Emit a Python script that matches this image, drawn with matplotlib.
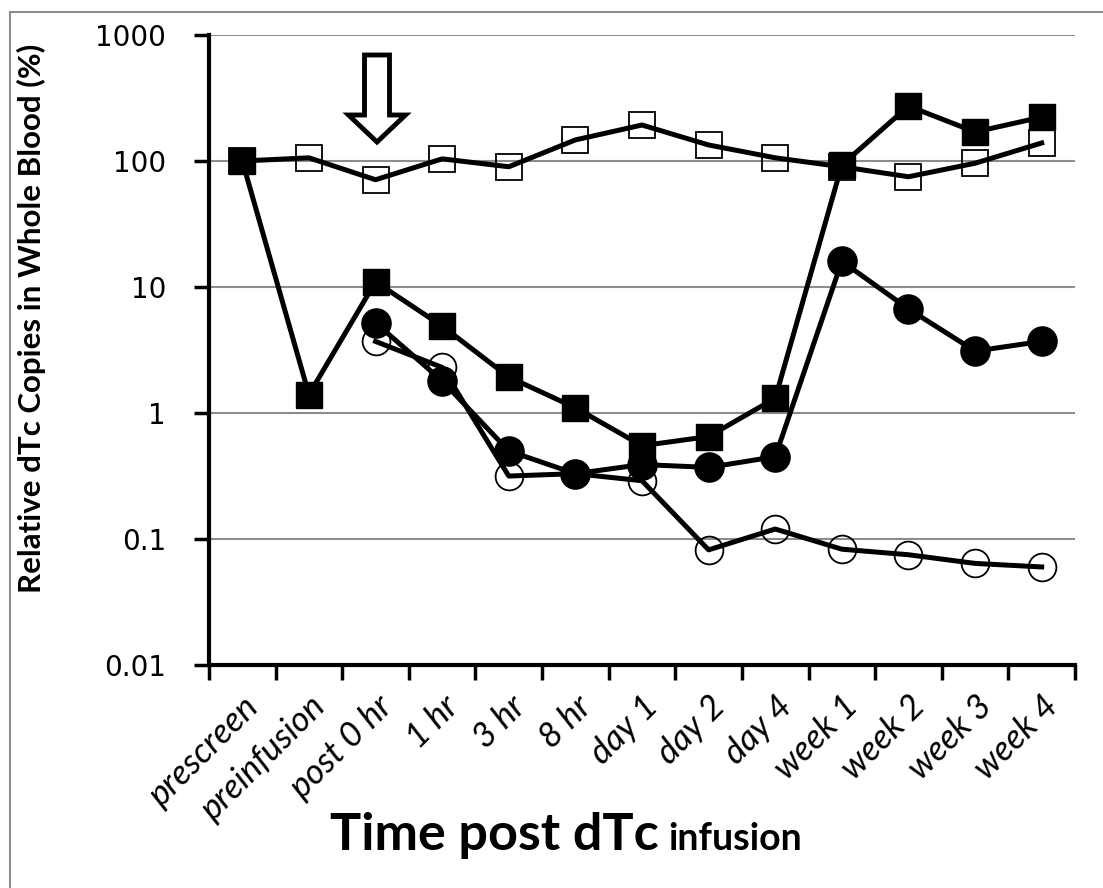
import matplotlib
matplotlib.use("Agg")
import matplotlib.pyplot as plt
from matplotlib.patches import Rectangle, FancyArrow
import numpy as np

# time points
labels = ["prescreen", "preinfusion", "post 0 hr", "1 hr", "3 hr", "8 hr", "day 1",
          "day 2", "day 4", "week 1", "week 2", "week 3", "week 4"]

# relative dTc copies (%)
open_sq = [100, 106, 71, 104, 90, 147, 193, 134, 106, 90, 75, 96, 139]
fill_sq = [100, 1.4, 11, 4.9, 1.93, 1.1, 0.55, 0.65, 1.31, 93, 273, 170, 223]
fill_ci = [None, None, 5.2, 1.8, 0.5, 0.33, 0.39, 0.37, 0.45, 16, 6.7, 3.1, 3.7]
open_ci = [None, None, 3.7, 2.3, 0.316, 0.33, 0.29, 0.082, 0.12, 0.083, 0.075, 0.064, 0.06]


def arr(v):
    return np.array([np.nan if a is None else a for a in v], dtype=float)


W, H = 1103, 888
x = np.arange(len(labels))
cal = ["Lato", "DejaVu Sans"]

fig = plt.figure(figsize=(W / 100, H / 100), dpi=100)
ax = fig.add_axes([209 / W, 1 - 665 / H, (1075 - 209) / W, (665 - 35) / H])

ax.plot(x, arr(open_sq), color="black", lw=3.6, marker="s", ms=19,
        mfc="none", mec="black", mew=1.3, zorder=3)
ax.plot(x, arr(fill_sq), color="black", lw=3.6, marker="s", ms=19,
        mfc="black", mec="black", zorder=4)
ax.plot(x, arr(open_ci), color="black", lw=3.6, marker="o", ms=20,
        mfc="none", mec="black", mew=1.3, zorder=3)
ax.plot(x, arr(fill_ci), color="black", lw=3.6, marker="o", ms=21,
        mfc="black", mec="black", zorder=4)

ax.set_yscale("log")
ax.set_ylim(0.01, 1000)
ax.set_xlim(-0.5, len(labels) - 0.5)

ax.set_yticks([0.01, 0.1, 1, 10, 100, 1000])
ax.set_yticklabels(["0.01", "0.1", "1", "10", "100", "1000"], fontsize=20,
                   family="DejaVu Sans")
ax.yaxis.set_minor_locator(matplotlib.ticker.NullLocator())
ax.grid(axis="y", color="#8c8c8c", lw=1.5, zorder=0)

# category boundaries carry the tick marks, labels sit in the middle
ax.set_xticks(np.arange(len(labels) + 1) - 0.5)
ax.set_xticklabels([])
ax.set_xticks(x, minor=True)
ax.set_xticklabels(labels, minor=True, rotation=45, ha="right", rotation_mode="anchor",
                   fontsize=25, style="italic", family=cal)
ax.tick_params(axis="x", which="minor", length=0, pad=18)
ax.tick_params(axis="x", which="major", length=11, width=2.5, direction="out")
ax.tick_params(axis="y", which="major", length=11, width=2.5, direction="out", pad=20)

for side in ["top", "right"]:
    ax.spines[side].set_visible(False)
for side in ["left", "bottom"]:
    ax.spines[side].set_linewidth(3)

fig.text(31 / W, 1 - 318 / H, "Relative dTc Copies in Whole Blood (%)", fontsize=22.5,
         fontweight="bold", family=cal, rotation=90, ha="center", va="center")

# x title, two sizes
t1 = fig.text(330 / W, 1 - 850 / H, "Time post dTc", fontsize=37.5, fontweight="bold",
              family=cal, va="baseline")
fig.canvas.draw()
x_end = t1.get_window_extent().x1
fig.text((x_end + 9) / W, 1 - 850 / H, "infusion", fontsize=27, fontweight="bold",
         family=cal, va="baseline")

# hollow down arrow at infusion
arrow = FancyArrow(377 / W, 1 - 55 / H, 0, -(142 - 55) / H, width=25 / W,
                   head_width=57 / W, head_length=27 / H, length_includes_head=True,
                   transform=fig.transFigure, facecolor="white", edgecolor="black", lw=3.5)
fig.patches.append(arrow)

# outer frame
fig.patches.append(Rectangle((10 / W, -0.1), 2, 1.1 - 12 / H, transform=fig.transFigure,
                             fill=False, edgecolor="#8c8c8c", lw=1.5))

fig.savefig("out.png", dpi=100)
